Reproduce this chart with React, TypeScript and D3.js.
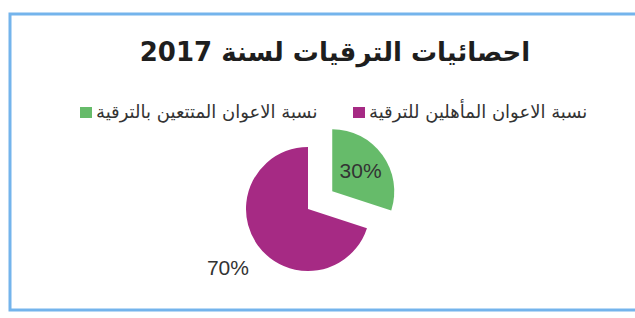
import React from "react";
import * as d3 from "d3";

// chart values
const categories = [
  "نسبة الاعوان المتتعين بالترقية",
  "نسبة الاعوان المأهلين للترقية",
];
const values = [30, 70];
const colors = ["#66bb6a", "#a62a84"];
const title = "احصائيات الترقيات لسنة 2017";

const width = 635;
const height = 318;

const App = () => {
  // pie geometry
  const cx = 308;
  const cy = 209;
  const radius = 62;
  const explode = 30;

  const pie = d3
    .pie<number>()
    .sort(null)
    .value((d) => d)
    .startAngle(0)
    .endAngle(2 * Math.PI);
  const arcs = pie(values);

  const arc = d3.arc<d3.PieArcDatum<number>>().innerRadius(0).outerRadius(radius);
  const total = d3.sum(values);

  // label radius for each slice (first inside, second outside)
  const labelRadius = [35, 99];
  const offsets = [explode, 0];

  // legend positions
  const legendX = [80, 353];
  const legendY = 113;

  return (
    <svg
      width={width}
      height={height}
      style={{ position: "absolute", left: 0, top: 0, background: "#fff" }}
    >
      {/* outer frame */}
      <rect
        x={10}
        y={14}
        width={640}
        height={296}
        fill="#fff"
        stroke="#74b4ec"
        strokeWidth={3}
      />

      {/* title */}
      <text
        x={335}
        y={61}
        textAnchor="middle"
        direction="rtl"
        fontFamily="DejaVu Sans, Liberation Sans, sans-serif"
        fontWeight="bold"
        fontSize={26}
        fill="#1e1e1e"
      >
        {title}
      </text>

      {/* legend */}
      {categories.map((c, i) => (
        <g key={c} transform={`translate(${legendX[i]},${legendY})`}>
          <rect x={0} y={-6} width={12} height={11} fill={colors[i]} />
          <text
            x={16}
            y={5}
            fontFamily="DejaVu Sans, sans-serif"
            fontSize={18}
            fill="#333"
          >
            {c}
          </text>
        </g>
      ))}

      {/* slices */}
      {arcs.map((a, i) => {
        const mid = (a.startAngle + a.endAngle) / 2;
        const ox = Math.sin(mid) * offsets[i];
        const oy = -Math.cos(mid) * offsets[i];
        const lx = Math.sin(mid) * labelRadius[i];
        const ly = -Math.cos(mid) * labelRadius[i];
        return (
          <g key={i} transform={`translate(${cx + ox},${cy + oy})`}>
            <path d={arc(a) || ""} fill={colors[i]} />
            <text
              x={lx}
              y={ly}
              dy="0.35em"
              textAnchor="middle"
              fontFamily="Liberation Sans, Arial, sans-serif"
              fontSize={21}
              fill="#333"
            >
              {Math.round((a.data / total) * 100)}%
            </text>
          </g>
        );
      })}
    </svg>
  );
};

export default App;
